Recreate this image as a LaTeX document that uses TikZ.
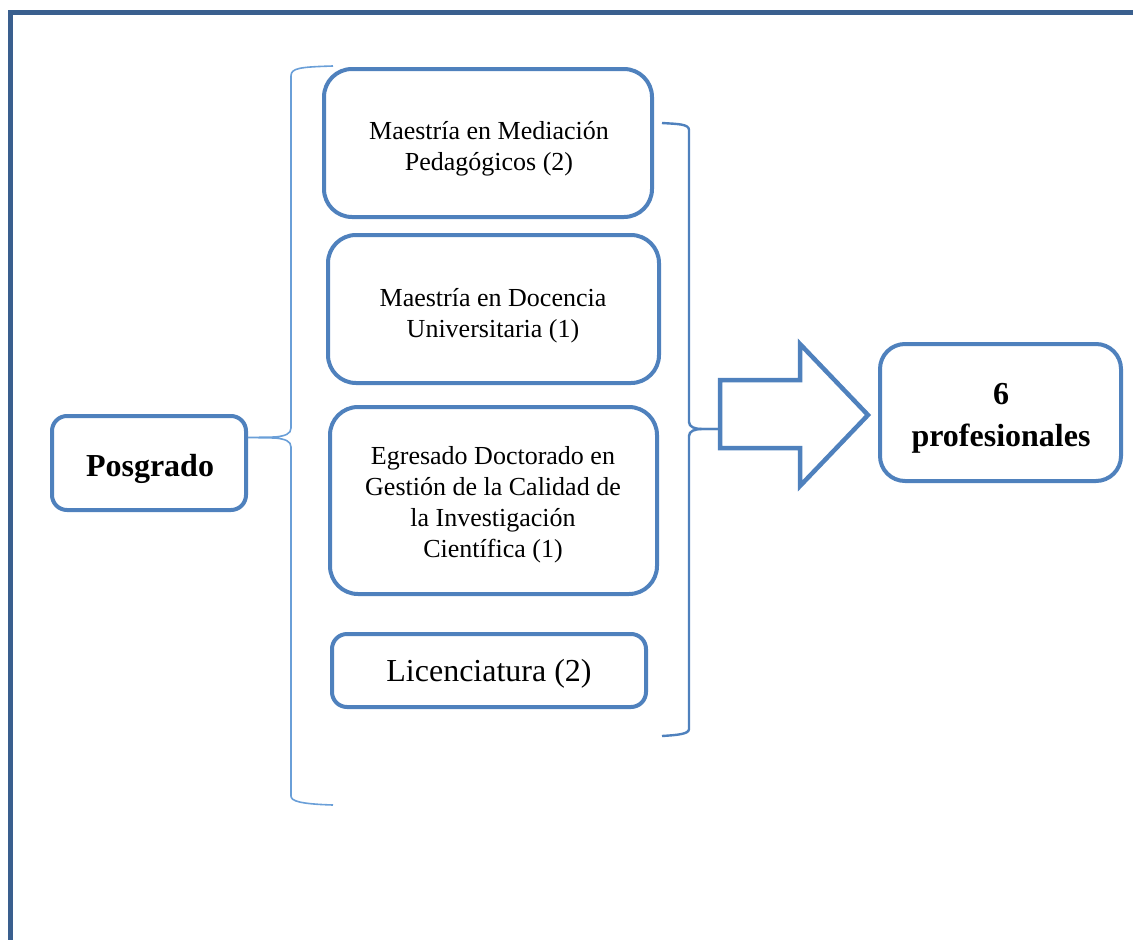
\documentclass[tikz,border=0pt]{standalone}
\usepackage{fontspec}
\setmainfont{Liberation Serif}
\definecolor{boxblue}{HTML}{4F81BD}
\definecolor{frameblue}{HTML}{3A5F8E}
\definecolor{braceblue}{HTML}{6A9FD8}
\begin{document}
\begin{tikzpicture}[x=1pt,y=-1pt,
  rbox/.style={draw=boxblue, line width=4pt, rounded corners=28pt, inner sep=0pt},
  sbox/.style={draw=boxblue, line width=4pt, rounded corners=15pt, inner sep=0pt},
  txt/.style={align=center, inner sep=0pt, font=\fontsize{26}{31}\selectfont},
  bigtxt/.style={align=center, inner sep=0pt, font=\fontsize{32}{38}\selectfont},
  boldtxt/.style={align=center, inner sep=0pt, font=\fontsize{32}{42}\selectfont\bfseries},
  lbrace/.style={draw=braceblue, line width=1.6pt},
  rbrace/.style={draw=boxblue, line width=2.4pt},
  arrowshape/.style={draw=boxblue, line width=4.5pt, fill=white, miter limit=10}
]
\useasboundingbox (0,0) rectangle (1133,940);
% frame
\draw[frameblue, line width=5pt] (10.5,945) -- (10.5,12.5) -- (1140,12.5);

% boxes
\node[rbox, minimum width=328pt, minimum height=148pt] (m1) at (488,143) {};
\node[txt] (m1t) at (489,149) {Maestría en Mediación\\Pedagógicos (2)};
\node[rbox, minimum width=331pt, minimum height=148pt] (m2) at (493.5,309) {};
\node[txt] (m2t) at (493,316) {Maestría en Docencia\\Universitaria (1)};
\node[rbox, minimum width=327pt, minimum height=187pt] (m3) at (493.5,500.5) {};
\node[txt] (m3t) at (493,505) {Egresado Doctorado en\\Gestión de la Calidad de\\la Investigación\\Científica (1)};
\node[sbox, minimum width=314pt, minimum height=73pt] (lic) at (489,670.5) {};
\node[bigtxt] (lict) at (489,674) {Licenciatura (2)};
\node[sbox, minimum width=194pt, minimum height=94pt] (pos) at (149,463) {};
\node[boldtxt] (post) at (150,469) {Posgrado};
\node[sbox, rounded corners=25pt, minimum width=241pt, minimum height=137pt] (prof) at (1000.5,412.5) {};
\node[boldtxt] (proft) at (1001,418) {6\\profesionales};

% left brace
\coordinate (lbtop) at (333,66);
\coordinate (lbbot) at (333,805);
\draw[lbrace] (lbtop) .. controls (300,67) and (291,68) .. (291,76) -- (291,428)
  .. controls (291,434) and (285,436) .. (275,437) -- (pos.east |- 0,437.5)
  -- (275,438) .. controls (285,439) and (291,441) .. (291,447) -- (291,796)
  .. controls (291,801) and (300,804) .. (lbbot);

% block arrow
\coordinate (atip) at (868,415);
\draw[arrowshape] (720,380) -- (800,380) -- (800,344) -- (atip) -- (800,486) -- (800,448) -- (720,448) -- cycle;

% right brace
\coordinate (rbtop) at (662,123);
\coordinate (rbbot) at (662,736);
\coordinate (rbtip) at (718,429);
\draw[rbrace] (rbtop) .. controls (678,124) and (689,124) .. (689,130) -- (689,422)
  .. controls (689,427) and (695,429) .. (702,429) -- (rbtip);
\draw[rbrace] (rbtip) -- (702,429) .. controls (695,429) and (689,431) .. (689,436) -- (689,729)
  .. controls (689,734) and (678,735) .. (rbbot);
\end{tikzpicture}
\end{document}
